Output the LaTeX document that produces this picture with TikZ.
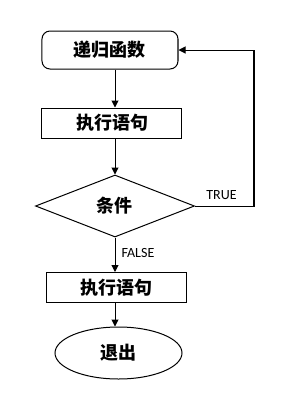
\documentclass[tikz,border=0pt]{standalone}
\usepackage{fontspec}
\setmainfont{Carlito}
\newfontfamily\cjk{Noto Sans CJK SC}
\usetikzlibrary{arrows.meta, positioning, calc, shapes.geometric}
\tikzset{
    block/.style={draw, line width=0.5pt, fill=white, inner sep=0pt,
        font=\cjk\bfseries\fontsize{9pt}{10pt}\selectfont},
    func/.style={block, rounded corners=4pt, minimum width=68pt, minimum height=19pt},
    stmt/.style={block, minimum width=70pt, minimum height=15pt},
    cond/.style={block, diamond, aspect=2.5, minimum width=79.5pt, minimum height=31pt},
    stop/.style={block, ellipse, minimum width=63.5pt, minimum height=26pt},
    arr/.style={-{Triangle[length=3.5pt, width=3.5pt]}, line width=0.5pt},
    lbl/.style={font=\fontsize{7pt}{8pt}\selectfont, inner sep=0pt},
}
\begin{document}
\begin{tikzpicture}[x=0.5pt, y=-0.5pt]
    \useasboundingbox (0,0) rectangle (302,419);

    % Bloki
    \node[func] (F)  at (110,50)    {递归函数};
    \node[stmt] (S1) at (112,123)   {执行语句};
    \node[cond] (C)  at (115,206)   {条件};
    \node[stmt] (S2) at (117,287.5) {执行语句};
    \node[stop] (E)  at (118.5,353) {退出};

    % Linijos
    \draw[arr] (F.south -| C.north) -- (S1.north -| C.north);
    \draw[arr] (S1.south -| C.north) -- (C.north);
    \draw[arr] (C.south) -- node[lbl, right=3pt, pos=0.45] (f) {FALSE} (S2.north -| C.south);
    \draw[arr] (S2.south -| C.south) -- (E.north -| C.south);

    % grįžimas
    \draw[arr] (C.east) -- node[lbl, above=3pt, pos=0.45] (t) {TRUE} ++(59,0) |- (F.east);
\end{tikzpicture}
\end{document}
